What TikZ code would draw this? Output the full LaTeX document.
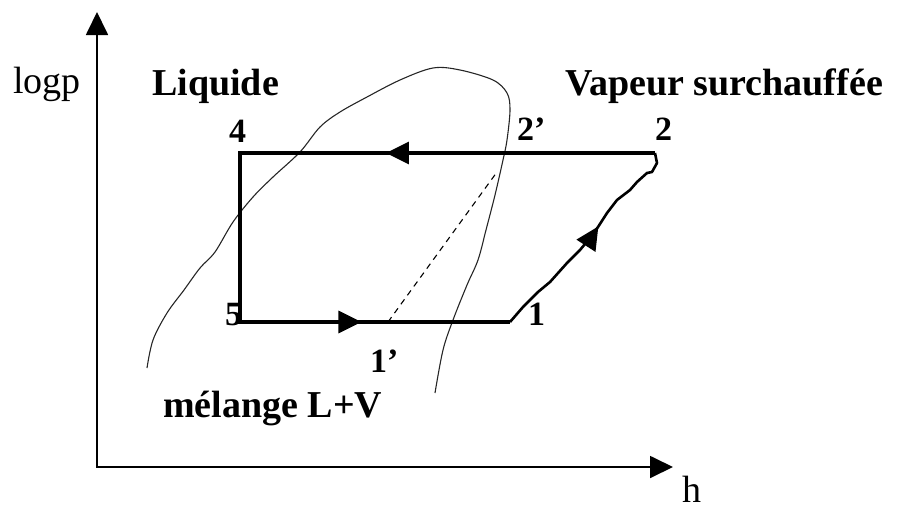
\documentclass[tikz,border=0pt]{standalone}
\usepackage{fontspec}
\setmainfont{Liberation Serif}
\usetikzlibrary{arrows.meta,decorations.markings}

\begin{document}
\begin{tikzpicture}[
  x=1pt,y=-1pt,
  >={Triangle[length=23pt,width=22pt]},
  axis/.style={line width=1.8pt},
  cycleline/.style={line width=3.2pt,line join=miter},
  dome/.style={line width=1.1pt,black!85},
  mixline/.style={line width=1.1pt,dash pattern=on 6pt off 5pt},
  word/.style={font=\fontsize{38}{40}\selectfont\bfseries,anchor=base west,inner sep=0pt},
  num/.style={font=\fontsize{34}{36}\selectfont\bfseries,anchor=base west,inner sep=0pt},
  axlabel/.style={font=\fontsize{38}{40}\selectfont,anchor=base west,inner sep=0pt}
]
  \useasboundingbox (0,0) rectangle (905,509);

  % axes
  \coordinate (origin) at (97,467);
  \coordinate (ytip) at (97,12);
  \coordinate (xtip) at (673,467);
  \draw[axis,<->] (ytip) -- (origin) -- (xtip);
  \node[axlabel] (logp) at (13,93) {logp};
  \node[axlabel] (haxis) at (682,502) {h};

  % cycle points
  \coordinate (p2) at (655,153);
  \coordinate (p4) at (240,153);
  \coordinate (p5) at (240,322);
  \coordinate (p1) at (510,322);
  \coordinate (p1b) at (388,322);
  \coordinate (p2b) at (497,172);

  % saturation curve
  \draw[dome] plot[smooth,tension=0.55] coordinates {
    (147,368) (153,340) (167,313) (184,290) (200,268) (215,252) (233,222)
    (253,197) (273,177) (300,152) (320,127) (340,112) (367,97) (400,80)
    (433,68) (460,70) (493,80) (507,93) (510,110) (507,140) (503,160)
    (495,195) (486,230) (478,260) (467,285) (453,320) (443,350) (435,393)};

  % cycle
  \draw[cycleline,postaction={decorate},decoration={markings,
      mark=at position 0.315 with {\arrow{>}},
      mark=at position 0.826 with {\arrow{>}}}]
    (p2) -- (p4) -- (p5) -- (p1);
  \draw[line width=2.6pt,line join=round,postaction={decorate},decoration={markings,
      mark=at position 0.57 with {\arrow{>}}}]
    (p1) -- (523,307) -- (538,292) -- (550,282) -- (567,263) -- (580,250)
    -- (590,238) -- (598,227) -- (607,213) -- (617,200) -- (630,190)
    -- (637,182) -- (647,173) -- (652,172) -- (657,163) -- (p2);
  \draw[mixline] (p1b) -- (p2b);

  % labels
  \node[word] (liq) at (152,95) {Liquide};
  \node[word] (vap) at (565,95) {Vapeur surchauffée};
  \node[word] (mel) at (163,417) {mélange L+V};
  \node[num] (l4) at (229,142) {4};
  \node[num] (l2b) at (517,140) {2’};
  \node[num] (l2) at (655,140) {2};
  \node[num] (l5) at (225,325) {5};
  \node[num] (l1) at (528,325) {1};
  \node[num] (l1b) at (370,372) {1’};
\end{tikzpicture}
\end{document}
